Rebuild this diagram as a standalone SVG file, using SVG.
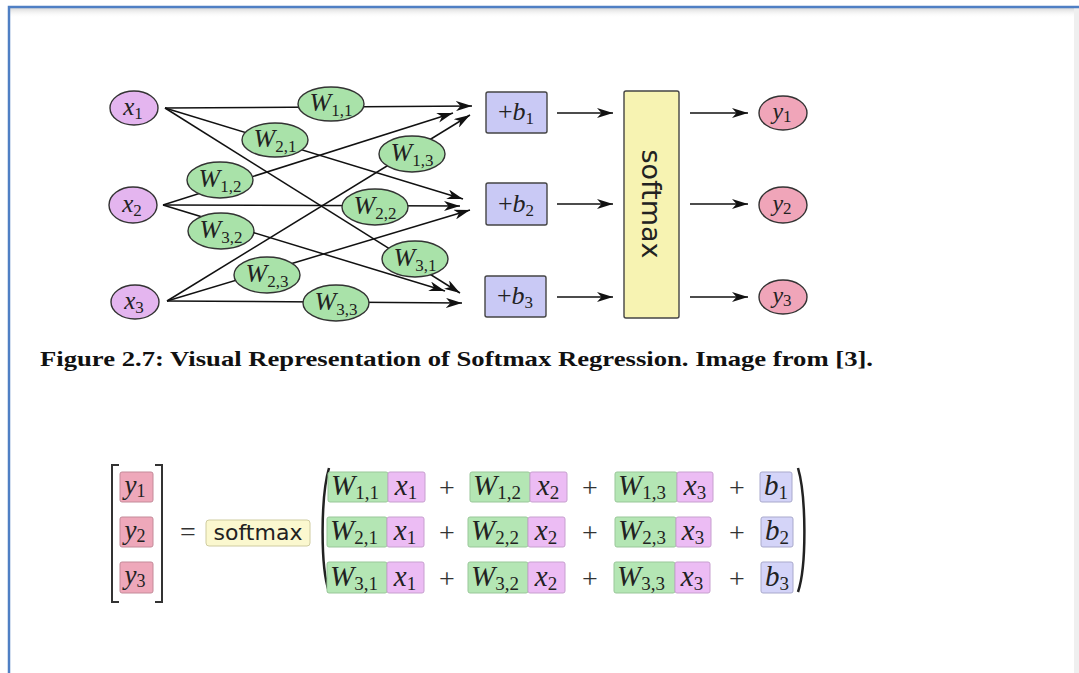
<svg xmlns="http://www.w3.org/2000/svg" width="1079" height="673" viewBox="0 0 1079 673">
<defs>
<marker id="ah" viewBox="0 0 16 10" refX="16" refY="5" markerWidth="16" markerHeight="10" markerUnits="userSpaceOnUse" orient="auto">
<path d="M0,0 L16,5 L0,10 L4.5,5 Z" fill="#111"/>
</marker>
<linearGradient id="sh" x1="0" y1="0" x2="0" y2="1">
<stop offset="0" stop-color="#d8d8d8"/>
<stop offset="1" stop-color="#ffffff" stop-opacity="0"/>
</linearGradient>
</defs>
<style>
.edge{stroke:#111;stroke-width:1.5;fill:none;marker-end:url(#ah)}
.xn{fill:#e4b5ef;stroke:#333;stroke-width:1.4}
.wn{fill:#a9e2a9;stroke:#333;stroke-width:1.4}
.yn{fill:#f0a5b9;stroke:#333;stroke-width:1.4}
.bn{fill:#c9c9f5;stroke:#444;stroke-width:1.4}
.sm{fill:#f7f3b2;stroke:#444;stroke-width:1.4}
.eg{fill:#b4e6b4;stroke:#99c799;stroke-width:1}
.ep{fill:#ecbcf4;stroke:#c7a0cf;stroke-width:1}
.eb{fill:#d4d4f8;stroke:#a9a9cc;stroke-width:1}
.ey{fill:#eea8ba;stroke:#c48a99;stroke-width:1}
</style>
<rect x="0" y="0" width="1079" height="673" fill="#ffffff"/>
<rect x="10" y="8" width="1069" height="10" fill="url(#sh)"/>
<rect x="1074" y="8" width="5" height="665" fill="#efefef"/>
<path d="M9,673 V7 H1079" fill="none" stroke="#4f7fc4" stroke-width="2.5"/>

<g id="connectors">
<line class="edge" x1="165" y1="108" x2="472" y2="106"/>
<line class="edge" x1="165" y1="108" x2="463" y2="199"/>
<line class="edge" x1="165" y1="108" x2="460" y2="293"/>
<line class="edge" x1="163" y1="205" x2="453" y2="113"/>
<line class="edge" x1="163" y1="205" x2="460" y2="206"/>
<line class="edge" x1="163" y1="205" x2="445" y2="291"/>
<line class="edge" x1="167" y1="301" x2="470" y2="115"/>
<line class="edge" x1="167" y1="301" x2="470" y2="210"/>
<line class="edge" x1="167" y1="301" x2="462" y2="303"/>
<line class="edge" x1="557" y1="113" x2="613" y2="113"/>
<line class="edge" x1="557" y1="204" x2="613" y2="204"/>
<line class="edge" x1="557" y1="297" x2="613" y2="297"/>
<line class="edge" x1="690" y1="113" x2="748" y2="113"/>
<line class="edge" x1="690" y1="204" x2="748" y2="204"/>
<line class="edge" x1="690" y1="297" x2="748" y2="297"/>
</g>

<g font-family="Liberation Serif, serif" fill="#222">
<g id="x1"><ellipse class="xn" cx="134" cy="108" rx="24" ry="17"/><text x="133" y="115" font-size="25" font-style="italic" text-anchor="middle">x<tspan font-style="normal" font-size="17" dy="4">1</tspan></text></g>
<g id="x2"><ellipse class="xn" cx="133" cy="205" rx="24" ry="18"/><text x="132" y="212" font-size="25" font-style="italic" text-anchor="middle">x<tspan font-style="normal" font-size="17" dy="4">2</tspan></text></g>
<g id="x3"><ellipse class="xn" cx="135" cy="302" rx="24" ry="17"/><text x="134" y="309" font-size="25" font-style="italic" text-anchor="middle">x<tspan font-style="normal" font-size="17" dy="4">3</tspan></text></g>

<g id="W11"><ellipse class="wn" cx="331" cy="104" rx="33" ry="17"/><text x="331" y="111" font-size="26" font-style="italic" text-anchor="middle">W<tspan font-style="normal" font-size="17" dy="5">1,1</tspan></text></g>
<g id="W21"><ellipse class="wn" cx="275" cy="140" rx="33" ry="17"/><text x="275" y="147" font-size="26" font-style="italic" text-anchor="middle">W<tspan font-style="normal" font-size="17" dy="5">2,1</tspan></text></g>
<g id="W13"><ellipse class="wn" cx="412" cy="154" rx="33" ry="18"/><text x="412" y="161" font-size="26" font-style="italic" text-anchor="middle">W<tspan font-style="normal" font-size="17" dy="5">1,3</tspan></text></g>
<g id="W12"><ellipse class="wn" cx="220" cy="180" rx="33" ry="18"/><text x="220" y="187" font-size="26" font-style="italic" text-anchor="middle">W<tspan font-style="normal" font-size="17" dy="5">1,2</tspan></text></g>
<g id="W22"><ellipse class="wn" cx="375" cy="207" rx="33" ry="18"/><text x="375" y="214" font-size="26" font-style="italic" text-anchor="middle">W<tspan font-style="normal" font-size="17" dy="5">2,2</tspan></text></g>
<g id="W32"><ellipse class="wn" cx="221" cy="231" rx="33" ry="18"/><text x="221" y="238" font-size="26" font-style="italic" text-anchor="middle">W<tspan font-style="normal" font-size="17" dy="5">3,2</tspan></text></g>
<g id="W31"><ellipse class="wn" cx="415" cy="259" rx="33" ry="18"/><text x="415" y="266" font-size="26" font-style="italic" text-anchor="middle">W<tspan font-style="normal" font-size="17" dy="5">3,1</tspan></text></g>
<g id="W23"><ellipse class="wn" cx="267" cy="275" rx="33" ry="18"/><text x="267" y="282" font-size="26" font-style="italic" text-anchor="middle">W<tspan font-style="normal" font-size="17" dy="5">2,3</tspan></text></g>
<g id="W33"><ellipse class="wn" cx="336" cy="303" rx="33" ry="18"/><text x="336" y="310" font-size="26" font-style="italic" text-anchor="middle">W<tspan font-style="normal" font-size="17" dy="5">3,3</tspan></text></g>

<g id="b1"><rect class="bn" x="486" y="92" width="61" height="41" rx="2"/><text x="516" y="120" font-size="26" font-style="italic" text-anchor="middle"><tspan font-style="normal">+</tspan>b<tspan font-style="normal" font-size="17" dy="4">1</tspan></text></g>
<g id="b2"><rect class="bn" x="486" y="183" width="61" height="42" rx="2"/><text x="516" y="212" font-size="26" font-style="italic" text-anchor="middle"><tspan font-style="normal">+</tspan>b<tspan font-style="normal" font-size="17" dy="4">2</tspan></text></g>
<g id="b3"><rect class="bn" x="485" y="276" width="61" height="41" rx="2"/><text x="515" y="304" font-size="26" font-style="italic" text-anchor="middle"><tspan font-style="normal">+</tspan>b<tspan font-style="normal" font-size="17" dy="4">3</tspan></text></g>

<g id="softmax"><rect class="sm" x="624" y="91" width="55" height="227" rx="2"/><text x="0" y="0" transform="translate(651,204) rotate(90)" font-family="DejaVu Sans, sans-serif" font-size="27" text-anchor="middle" dominant-baseline="central">softmax</text></g>

<g id="y1"><ellipse class="yn" cx="783" cy="113" rx="24" ry="17"/><text x="782" y="119" font-size="24" font-style="italic" text-anchor="middle">y<tspan font-style="normal" font-size="17" dy="3">1</tspan></text></g>
<g id="y2"><ellipse class="yn" cx="783" cy="205" rx="24" ry="18"/><text x="782" y="211" font-size="24" font-style="italic" text-anchor="middle">y<tspan font-style="normal" font-size="17" dy="3">2</tspan></text></g>
<g id="y3"><ellipse class="yn" cx="783" cy="297" rx="24" ry="17"/><text x="782" y="303" font-size="24" font-style="italic" text-anchor="middle">y<tspan font-style="normal" font-size="17" dy="3">3</tspan></text></g>

<g id="caption"><text x="40" y="366" font-weight="bold" font-size="21" fill="#111" textLength="833" lengthAdjust="spacingAndGlyphs">Figure 2.7: Visual Representation of Softmax Regression. Image from [3].</text></g>

<g id="equation">
<path d="M119,465 H112 V602 H119" fill="none" stroke="#333" stroke-width="2"/>
<path d="M155,465 H162 V602 H155" fill="none" stroke="#333" stroke-width="2"/>
<rect class="ey" x="120" y="472" width="33" height="30" rx="2"/><text x="135" y="494" font-size="27" font-style="italic" text-anchor="middle">y<tspan font-style="normal" font-size="18" dy="3">1</tspan></text>
<rect class="ey" x="120" y="517" width="33" height="30" rx="2"/><text x="135" y="539" font-size="27" font-style="italic" text-anchor="middle">y<tspan font-style="normal" font-size="18" dy="3">2</tspan></text>
<rect class="ey" x="120" y="562" width="33" height="31" rx="2"/><text x="135" y="584" font-size="27" font-style="italic" text-anchor="middle">y<tspan font-style="normal" font-size="18" dy="3">3</tspan></text>
<text x="188" y="541" font-size="28" fill="#333" text-anchor="middle">=</text>
<rect x="206" y="520" width="104" height="26" rx="3" fill="#fbf8cf" stroke="#cfcca0" stroke-width="1"/>
<text x="258" y="540" font-family="DejaVu Sans, sans-serif" font-size="22" text-anchor="middle">softmax</text>
<path d="M329,468 C321,495 320,565 329,592" fill="none" stroke="#222" stroke-width="2.5"/>
<path d="M798,468 C806,495 807,565 798,592" fill="none" stroke="#222" stroke-width="2.5"/>

<rect class="eg" x="328" y="472" width="60" height="30" rx="2"/><rect class="ep" x="388" y="472" width="37" height="30" rx="2"/>
<rect class="eg" x="470" y="472" width="60" height="30" rx="2"/><rect class="ep" x="530" y="472" width="37" height="30" rx="2"/>
<rect class="eg" x="615" y="472" width="62" height="30" rx="2"/><rect class="ep" x="677" y="472" width="36" height="30" rx="2"/>
<rect class="eb" x="760" y="472" width="32" height="30" rx="2"/>
<rect class="eg" x="327" y="517" width="60" height="30" rx="2"/><rect class="ep" x="387" y="517" width="37" height="30" rx="2"/>
<rect class="eg" x="468" y="517" width="60" height="30" rx="2"/><rect class="ep" x="528" y="517" width="37" height="30" rx="2"/>
<rect class="eg" x="615" y="517" width="61" height="30" rx="2"/><rect class="ep" x="676" y="517" width="35" height="30" rx="2"/>
<rect class="eb" x="761" y="517" width="32" height="30" rx="2"/>
<rect class="eg" x="327" y="562" width="60" height="31" rx="2"/><rect class="ep" x="387" y="562" width="37" height="31" rx="2"/>
<rect class="eg" x="468" y="562" width="60" height="31" rx="2"/><rect class="ep" x="528" y="562" width="37" height="31" rx="2"/>
<rect class="eg" x="614" y="562" width="61" height="31" rx="2"/><rect class="ep" x="675" y="562" width="35" height="31" rx="2"/>
<rect class="eb" x="761" y="562" width="32" height="31" rx="2"/>

<g font-size="29" font-style="italic">
<text x="331" y="495">W<tspan font-style="normal" font-size="19" dy="4">1,1</tspan></text>
<text x="406" y="495" text-anchor="middle">x<tspan font-style="normal" font-size="19" dy="4">1</tspan></text>
<text x="473" y="495">W<tspan font-style="normal" font-size="19" dy="4">1,2</tspan></text>
<text x="548" y="495" text-anchor="middle">x<tspan font-style="normal" font-size="19" dy="4">2</tspan></text>
<text x="618" y="495">W<tspan font-style="normal" font-size="19" dy="4">1,3</tspan></text>
<text x="695" y="495" text-anchor="middle">x<tspan font-style="normal" font-size="19" dy="4">3</tspan></text>
<text x="776" y="495" text-anchor="middle">b<tspan font-style="normal" font-size="19" dy="4">1</tspan></text>

<text x="330" y="540">W<tspan font-style="normal" font-size="19" dy="4">2,1</tspan></text>
<text x="405" y="540" text-anchor="middle">x<tspan font-style="normal" font-size="19" dy="4">1</tspan></text>
<text x="471" y="540">W<tspan font-style="normal" font-size="19" dy="4">2,2</tspan></text>
<text x="546" y="540" text-anchor="middle">x<tspan font-style="normal" font-size="19" dy="4">2</tspan></text>
<text x="618" y="540">W<tspan font-style="normal" font-size="19" dy="4">2,3</tspan></text>
<text x="693" y="540" text-anchor="middle">x<tspan font-style="normal" font-size="19" dy="4">3</tspan></text>
<text x="777" y="540" text-anchor="middle">b<tspan font-style="normal" font-size="19" dy="4">2</tspan></text>

<text x="330" y="586">W<tspan font-style="normal" font-size="19" dy="4">3,1</tspan></text>
<text x="405" y="586" text-anchor="middle">x<tspan font-style="normal" font-size="19" dy="4">1</tspan></text>
<text x="471" y="586">W<tspan font-style="normal" font-size="19" dy="4">3,2</tspan></text>
<text x="546" y="586" text-anchor="middle">x<tspan font-style="normal" font-size="19" dy="4">2</tspan></text>
<text x="617" y="586">W<tspan font-style="normal" font-size="19" dy="4">3,3</tspan></text>
<text x="692" y="586" text-anchor="middle">x<tspan font-style="normal" font-size="19" dy="4">3</tspan></text>
<text x="777" y="586" text-anchor="middle">b<tspan font-style="normal" font-size="19" dy="4">3</tspan></text>
</g>
<g font-size="28" fill="#333" text-anchor="middle">
<text x="447" y="497">+</text><text x="590" y="497">+</text><text x="737" y="497">+</text>
<text x="447" y="542">+</text><text x="590" y="542">+</text><text x="737" y="542">+</text>
<text x="447" y="588">+</text><text x="590" y="588">+</text><text x="737" y="588">+</text>
</g>
</g>
</g>
</svg>
